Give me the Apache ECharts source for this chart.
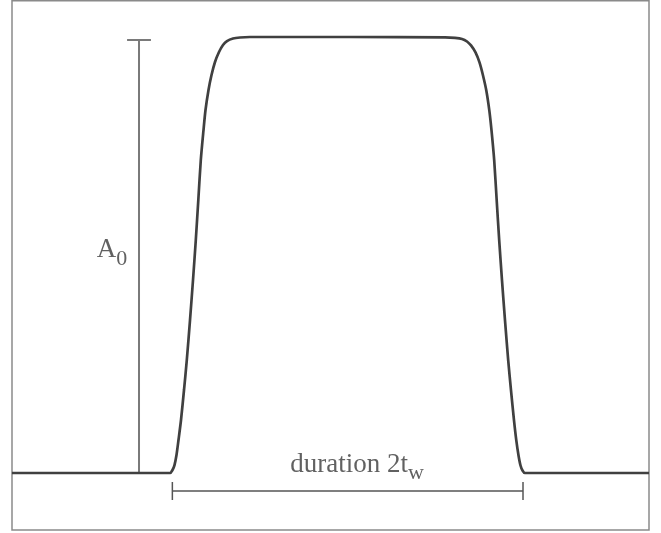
<!DOCTYPE html>
<html>
<head>
<meta charset="utf-8">
<script src="https://cdn.jsdelivr.net/npm/echarts@6/dist/echarts.min.js"></script>
<style>
  html, body { margin: 0; padding: 0; background: #fff; }
  #chart { width: 661px; height: 533px; }
</style>
</head>
<body>
<div id="chart"></div>
<script>
// Pulse profile: time t (normalised so the pulse feet sit at about ±1) and amplitude (A0 = 1)
const pulseTime = [
  -1.912, -1.100, -1.0114, -0.9972, -0.9858, -0.9744, -0.9630, -0.9487, -0.9316, -0.9157,
  -0.8974, -0.8803, -0.8644, -0.8501, -0.8359, -0.8205, -0.8091, -0.7920, -0.7749, -0.7550,
  -0.7322, -0.7094, -0.6866, -0.6524, -0.6125, -0.5556, 0.0142,
  0.5556, 0.6125, 0.6524, 0.6809, 0.7037, 0.7293, 0.7521, 0.7721, 0.7909,
  0.8080, 0.8205, 0.8359, 0.8501, 0.8644, 0.8803, 0.8974, 0.9157, 0.9316, 0.9487,
  0.9618, 0.9744, 0.9858, 0.9972, 1.0114, 1.100, 1.718
];
const pulseAmplitude = [
  0, 0, 0, 0.0069, 0.0183, 0.0413, 0.0757, 0.1216, 0.1904, 0.2592,
  0.3509, 0.4427, 0.5344, 0.6261, 0.7179, 0.7867, 0.8326, 0.8784, 0.9128, 0.9427,
  0.9656, 0.9817, 0.9908, 0.9966, 0.9989, 1.0, 1.0,
  0.999, 0.9979, 0.9956, 0.9898, 0.9807, 0.9646, 0.9417, 0.9118, 0.8774,
  0.8316, 0.7857, 0.7169, 0.6251, 0.5334, 0.4417, 0.3499, 0.2582, 0.1894, 0.1206,
  0.0747, 0.0403, 0.0173, 0.0059, 0, 0, 0
];

// Dimension markers
const amplitudeMarker = { t: -1.188, from: 0, to: 0.993, cap: 0.068 };
const durationMarker = { a: -0.0413, from: -0.998, to: 1.0, cap: 0.0206 };

const pulseData = pulseTime.map((t, i) => [t, pulseAmplitude[i]]);

function seg(x1, y1, x2, y2) { return [[x1, y1], [x2, y2], [null, null]]; }

const ampLines = [].concat(
  seg(amplitudeMarker.t, amplitudeMarker.from, amplitudeMarker.t, amplitudeMarker.to),
  seg(amplitudeMarker.t - amplitudeMarker.cap, amplitudeMarker.to, amplitudeMarker.t + amplitudeMarker.cap, amplitudeMarker.to),
  seg(amplitudeMarker.t - amplitudeMarker.cap, amplitudeMarker.from, amplitudeMarker.t + amplitudeMarker.cap, amplitudeMarker.from)
);
const durLines = [].concat(
  seg(durationMarker.from, durationMarker.a, durationMarker.to, durationMarker.a),
  seg(durationMarker.from, durationMarker.a - durationMarker.cap, durationMarker.from, durationMarker.a + durationMarker.cap),
  seg(durationMarker.to, durationMarker.a - durationMarker.cap, durationMarker.to, durationMarker.a + durationMarker.cap)
);

const serif = '"Liberation Serif", "DejaVu Serif", serif';
const textColor = '#3a3a3a';

const chart = echarts.init(document.getElementById('chart'), null, { renderer: 'canvas' });
chart.setOption({
  animation: false,
  backgroundColor: '#fff',
  grid: {
    left: 12, right: 12, top: 0.75, bottom: 3,
    show: true, borderColor: '#8a8a8a', borderWidth: 1.5, backgroundColor: 'transparent'
  },
  xAxis: {
    type: 'value', min: -1.9117, max: 1.7179,
    axisLine: { show: false }, axisTick: { show: false },
    axisLabel: { show: false }, splitLine: { show: false }
  },
  yAxis: {
    type: 'value', min: -0.1307, max: 1.0832,
    axisLine: { show: false }, axisTick: { show: false },
    axisLabel: { show: false }, splitLine: { show: false }
  },
  series: [
    {
      type: 'line', data: ampLines, connectNulls: false, showSymbol: false, silent: true,
      lineStyle: { color: '#7a7a7a', width: 2 }
    },
    {
      type: 'line', data: durLines, connectNulls: false, showSymbol: false, silent: true,
      lineStyle: { color: '#555', width: 1.5 }
    },
    {
      type: 'line', data: pulseData, showSymbol: false, smooth: 0.25,
      lineStyle: { color: '#404040', width: 2.7 }
    },
    {
      type: 'scatter', symbolSize: 0, silent: true,
      data: [
        { value: [-1.342, 0.511], label: { formatter: '{a|A}{s|0}' } },
        { value: [0.054, 0.018], label: { formatter: '{a|duration 2t}{s|w}' } }
      ],
      label: {
        show: true, position: 'inside', color: textColor,
        fontFamily: serif,
        rich: {
          a: { fontFamily: serif, fontSize: 27, color: textColor, verticalAlign: 'bottom' },
          s: { fontFamily: serif, fontSize: 22, color: textColor, verticalAlign: 'bottom', padding: [0, 0, -6, 0] }
        }
      }
    }
  ]
});
</script>
</body>
</html>
